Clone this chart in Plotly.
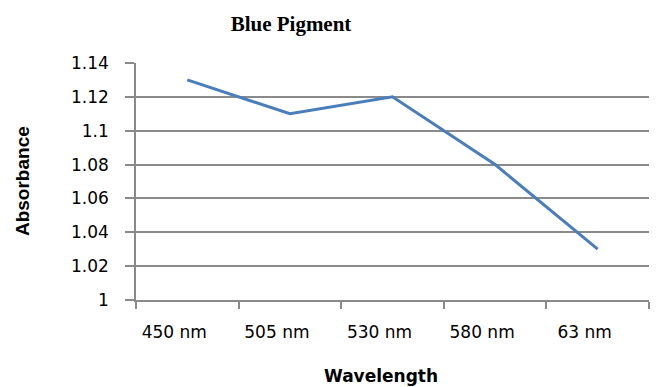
import plotly.graph_objects as go

# Absorbance of the blue pigment at each measured wavelength
wavelengths = ["450 nm", "505 nm", "530 nm", "580 nm", "63 nm"]
absorbance = [1.13, 1.11, 1.12, 1.08, 1.03]

# Value-axis ticks
y_tickvals = [1.00, 1.02, 1.04, 1.06, 1.08, 1.10, 1.12, 1.14]
y_ticktext = ["1", "1.02", "1.04", "1.06", "1.08", "1.1", "1.12", "1.14"]

GRID = "#8a8a8a"
LINE = "#4a7ebb"

fig = go.Figure(
    go.Scatter(
        x=wavelengths,
        y=absorbance,
        mode="lines",
        line=dict(color=LINE, width=3),
        hoverinfo="x+y",
    )
)

fig.update_layout(
    width=656,
    height=387,
    margin=dict(l=136, r=7, t=63, b=87),
    paper_bgcolor="white",
    plot_bgcolor="white",
    showlegend=False,
    title=dict(
        text="Blue Pigment",
        font=dict(family="Liberation Serif", size=21, color="#000000", weight="bold"),
        x=291 / 656,
        xref="container",
        xanchor="center",
        y=1 - 24 / 387,
        yref="container",
        yanchor="middle",
    ),
    annotations=[
        dict(
            text="Absorbance",
            xref="paper",
            yref="paper",
            x=(22 - 136) / 513,
            y=0.502,
            xanchor="center",
            yanchor="middle",
            textangle=-90,
            showarrow=False,
            font=dict(family="Liberation Sans Narrow, Liberation Sans", size=19,
                      color="#000000", weight="bold"),
        ),
        dict(
            text="Wavelength",
            xref="paper",
            yref="paper",
            x=(381 - 136) / 513,
            y=(300 - 376) / 237,
            xanchor="center",
            yanchor="middle",
            showarrow=False,
            font=dict(family="DejaVu Sans", size=17, color="#000000", weight="bold"),
        ),
    ],
)

fig.update_xaxes(
    type="category",
    range=[-0.5, len(wavelengths) - 0.5],
    showgrid=False,
    showline=True,
    linecolor=GRID,
    linewidth=1.5,
    ticks="outside",
    tickson="boundaries",
    ticklen=7,
    tickcolor=GRID,
    tickwidth=1.5,
    tickfont=dict(family="DejaVu Sans", size=17, color="#000000"),
    ticklabelstandoff=16,
    ticklabelshift=-13,
    zeroline=False,
    fixedrange=True,
)

fig.update_yaxes(
    range=[1.0, 1.14],
    tickvals=y_tickvals,
    ticktext=y_ticktext,
    showgrid=True,
    gridcolor=GRID,
    gridwidth=1.5,
    showline=True,
    linecolor=GRID,
    linewidth=1.5,
    ticks="outside",
    ticklen=9,
    tickcolor=GRID,
    tickwidth=1.5,
    tickfont=dict(family="DejaVu Sans", size=17, color="#000000"),
    ticklabelstandoff=13,
    zeroline=False,
    fixedrange=True,
)

fig.write_html("out.html")
